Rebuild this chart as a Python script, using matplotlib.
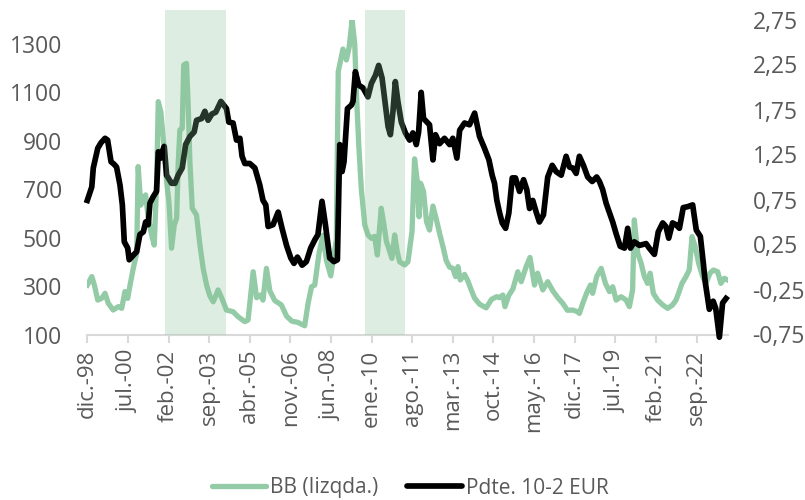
import matplotlib
matplotlib.use("Agg")
import matplotlib.pyplot as plt
from matplotlib.lines import Line2D

# ---- data (months since Dec-1998) ----
bb_months = [0, 2.1, 3.3, 4.9, 6.7, 8.3, 9.8, 12.1, 14.5, 16.1, 17.6, 18.9, 20.0, 21.5, 23.1, 23.8,
             25.0, 26.2, 27.3, 28.5, 30.1, 31.3, 32.4, 33.2, 34.4, 35.5, 37.1, 38.2, 39.4, 40.7, 41.8,
             42.5, 43.3, 44.4, 45.1, 46.4, 47.2, 48.0, 49.1, 51.1, 52.7, 54.2, 55.8, 57.3, 58.9, 61.2,
             63.3, 65.1, 68.2, 70.6, 73.7, 75.2, 77.6, 79.2, 81.0, 82.2, 83.8, 85.4, 87.7, 90.8, 93.2,
             95.7, 98.5, 101.7, 103.3, 104.9, 106.4, 108.4, 110.3, 111.9, 113.9, 115.0, 116.5, 117.4,
             119.6, 121.2, 122.5, 123.9, 125.1, 126.0, 127.0, 128.2, 129.8, 131.3, 132.9, 134.4, 135.7,
             137.5, 138.8, 139.9, 141.0, 142.5, 143.8, 145.0, 146.1, 148.5, 150.0, 151.9, 153.1, 154.4,
             155.2, 155.9, 157.3, 158.7, 160.1, 161.7, 163.3, 164.8, 166.4, 167.9, 169.5, 171.0, 172.3,
             173.4, 174.5, 176.5, 178.0, 179.6, 181.2, 183.5, 186.6, 189.1, 191.5, 192.8, 194.4, 195.4,
             197.1, 199.1, 201.4, 203.0, 205.3, 207.1, 209.2, 210.7, 213.1, 215.4, 217.8, 220.1, 222.4,
             224.6, 227.1, 229.4, 230.2, 231.8, 233.7, 235.4, 236.4, 238.3, 240.4, 242.4, 244.3, 245.8,
             247.4, 249.7, 252.1, 253.6, 255.1, 255.9, 257.5, 259.1, 260.6, 262.1, 263.3, 264.8, 266.8,
             269.2, 271.5, 273.8, 275.4, 276.6, 278.2, 280.1, 281.6, 282.9, 284.4, 286.0, 287.9, 289.4,
             291.3, 292.9, 294.9, 296.4, 298.0, 299.5]
bb_values = [304, 339, 304, 242, 249, 270, 229, 201, 215, 208, 277, 249, 304, 373, 435, 793,
             634, 662, 676, 580, 511, 469, 717, 1061, 1019, 910, 731, 648, 456, 552, 580,
             800, 944, 951, 1212, 1219, 1047, 813, 621, 593, 469, 373, 304, 260, 235, 284,
             242, 201, 194, 173, 153, 160, 359, 252, 263, 242, 373, 280, 240, 222, 176,
             155, 150, 136, 229, 297, 304, 435, 510, 405, 342, 407, 490, 1185,
             1278, 1233, 1285, 1398, 1300, 1075, 882, 700, 552, 511, 497, 505, 428,
             621, 552, 485, 456, 414, 511, 442, 400, 387, 400, 524, 825, 731,
             586, 724, 690, 565, 531, 630, 575, 518, 462, 405, 378, 373, 339,
             380, 325, 348, 322, 284, 250, 225, 210, 245, 256, 252, 263, 215,
             260, 288, 359, 318, 380, 418, 304, 353, 284, 318, 280, 252, 229,
             200, 201, 194, 187, 229, 273, 304, 270, 339, 373, 311, 277, 297,
             242, 256, 242, 215, 284, 573, 435, 394, 339, 311, 353, 270, 242,
             222, 208, 222, 242, 270, 311, 339, 366, 504, 462, 394, 339, 311,
             353, 366, 359, 311, 332, 325]

slope_months = [0, 2.1, 2.8, 4.9, 6.4, 8.3, 9.5, 11.1, 12.6, 13.7, 15.3, 16.4, 17.3, 18.9, 19.6, 21.5,
                23.1, 24.6, 26.2, 27.3, 28.5, 29.3, 30.8, 32.4, 33.2, 34.4, 35.0, 36.0, 37.1, 39.4, 41.0,
                42.5, 44.4, 46.0, 48.0, 50.0, 51.1, 53.5, 55.0, 56.5, 58.3, 60.1, 62.5, 65.1, 66.2, 68.2,
                69.8, 71.4, 72.4, 73.7, 76.0, 78.4, 80.7, 82.2, 83.5, 84.6, 86.9, 89.3, 91.1, 93.2, 95.2,
                96.7, 98.3, 100.5, 102.5, 104.5, 106.4, 107.9, 109.8, 111.4, 113.4, 115.4, 117.0, 118.1,
                119.2, 120.1, 121.7, 123.6, 124.3, 125.4, 127.0, 129.0, 131.3, 132.9, 134.8, 136.3, 137.9,
                139.1, 140.7, 141.8, 143.0, 144.1, 145.3, 146.9, 148.8, 150.8, 152.3, 153.9, 155.0, 156.2,
                157.3, 160.1, 161.7, 162.9, 164.8, 167.1, 169.5, 171.0, 172.9, 174.2, 176.5, 178.8, 181.2,
                183.5, 185.8, 187.9, 189.4, 190.5, 191.6, 192.9, 194.1, 195.7, 197.2, 198.8, 200.3, 202.2,
                204.1, 205.6, 206.9, 208.4, 210.0, 211.5, 213.4, 215.4, 217.5, 219.3, 221.7, 224.0, 225.6,
                227.1, 228.7, 230.2, 232.1, 234.1, 236.2, 238.3, 239.6, 241.1, 242.7, 244.3, 245.8, 247.4,
                249.3, 251.3, 252.8, 254.1, 255.9, 258.3, 261.4, 262.9, 265.3, 267.1, 269.2, 270.7, 272.0,
                273.8, 275.4, 277.0, 278.8, 280.8, 283.2, 284.9, 286.8, 288.2, 289.1, 291.0, 292.8, 294.0,
                295.7, 297.2, 298.8]
slope_values = [0.74, 0.89, 1.10, 1.32, 1.38, 1.43, 1.41, 1.17, 1.14, 1.11, 0.91, 0.69, 0.28, 0.21, 0.08, 0.13,
                0.17, 0.36, 0.39, 0.50, 0.47, 0.71, 0.78, 0.84, 1.28, 1.21, 1.28, 1.34, 1.02, 0.93, 0.93,
                1.02, 1.10, 1.36, 1.45, 1.50, 1.63, 1.65, 1.73, 1.63, 1.70, 1.72, 1.84, 1.76, 1.61, 1.60,
                1.41, 1.43, 1.23, 1.15, 1.15, 1.10, 0.91, 0.74, 0.69, 0.45, 0.47, 0.61, 0.43, 0.24, 0.10,
                0.04, 0.11, 0.02, 0.06, 0.21, 0.30, 0.36, 0.73, 0.47, 0.10, 0.06, 0.08, 1.36,
                1.06, 1.17, 1.76, 1.80, 1.84, 2.17, 2.02, 1.99, 1.89, 2.04, 2.13, 2.24, 2.10,
                1.87, 1.56, 1.47, 1.73, 2.06, 1.84, 1.61, 1.49, 1.41, 1.49, 1.36, 1.50, 1.94,
                1.65, 1.58, 1.19, 1.47, 1.37, 1.43, 1.36, 1.43, 1.21, 1.52, 1.60, 1.58, 1.71,
                1.45, 1.32, 1.19, 1.02, 0.93, 0.74, 0.60, 0.49, 0.43, 0.60, 0.99, 0.99, 0.84,
                0.97, 0.86, 0.65, 0.74, 0.61, 0.50, 0.58, 1.00, 1.13, 1.06, 1.02, 1.23, 1.11,
                1.10, 1.04, 1.23, 1.13, 1.00, 0.95, 1.00, 0.95, 0.86, 0.71, 0.60, 0.50, 0.37,
                0.23, 0.21, 0.43, 0.21, 0.28, 0.24, 0.26, 0.21, 0.14, 0.39, 0.49, 0.45, 0.32,
                0.49, 0.47, 0.43, 0.66, 0.67, 0.69, 0.41, 0.34, 0.04, -0.17, -0.47, -0.38, -0.46,
                -0.78, -0.40, -0.35]

# recession shading (months since Dec-1998)
shade_start = [36.5, 129.8]
shade_end = [65.1, 148.8]

tick_months = [0, 19, 38, 57, 76, 95, 114, 133, 152, 171, 190, 209, 228, 247, 266, 285]
tick_labels = ["dic.-98", "jul.-00", "feb.-02", "sep.-03", "abr.-05", "nov.-06", "jun.-08",
               "ene.-10", "ago.-11", "mar.-13", "oct.-14", "may.-16", "dic.-17", "jul.-19",
               "feb.-21", "sep.-22"]
left_ticks = [100, 300, 500, 700, 900, 1100, 1300]
right_ticks = [-0.75, -0.25, 0.25, 0.75, 1.25, 1.75, 2.25, 2.75]
right_labels = ["-0,75", "-0,25", "0,25", "0,75", "1,25", "1,75", "2,25", "2,75"]

series_names = ["BB (Iizqda.)", "Pdte. 10-2 EUR"]

# ---- style ----
plt.rcParams['font.family'] = ['Open Sans', 'DejaVu Sans']
GREEN = "#92cba5"
SHADE = "#8ac195"
TXT = "#595959"
AXIS = "#d9d9d9"

fig = plt.figure(figsize=(8.05, 5.0), dpi=100)
ax = fig.add_axes([87.3 / 805, 1 - 334.5 / 500, (727.5 - 87.3) / 805, 315 / 500])
ax2 = ax.twinx()

ax.plot(bb_months, bb_values, color=GREEN, lw=3.8, solid_joinstyle='round', zorder=2)
ax2.plot(slope_months, slope_values, color="black", lw=4.1, solid_joinstyle='round',
         clip_on=False, zorder=3)

for s, e in zip(shade_start, shade_end):
    ax2.axvspan(s, e, ymin=0, ymax=1.03, color=SHADE, alpha=0.28, lw=0, zorder=5, clip_on=False)

ax.set_xlim(0, 299.5)
ax.set_ylim(100, 1400)
ax2.set_ylim(-0.75, 2.75)

ax.set_yticks(left_ticks)
ax.set_yticklabels([str(v) for v in left_ticks])
ax2.set_yticks(right_ticks)
ax2.set_yticklabels(right_labels)
ax.set_xticks(tick_months)
ax.set_xticklabels(tick_labels, rotation=90)

ax.tick_params(axis='y', length=0, pad=18, labelsize=16.5, labelcolor=TXT)
ax2.tick_params(axis='y', length=0, pad=18, labelsize=16.5, labelcolor=TXT)
ax.tick_params(axis='x', length=6, width=1.5, color=AXIS, pad=5, labelsize=16, labelcolor=TXT)

for a in (ax, ax2):
    for sp in a.spines.values():
        sp.set_visible(False)
ax.spines['bottom'].set_visible(True)
ax.spines['bottom'].set_color(AXIS)
ax.spines['bottom'].set_linewidth(1.5)

handles = [Line2D([0], [0], color=GREEN, lw=3.8, solid_capstyle='round'),
           Line2D([0], [0], color="black", lw=4.1, solid_capstyle='round')]
leg = fig.legend(handles, series_names, loc='center', bbox_to_anchor=(410 / 805, 1 - 488 / 500),
                 ncol=2, frameon=False, fontsize=15, handlelength=2.6, handletextpad=0.2,
                 columnspacing=1.4)
for t in leg.get_texts():
    t.set_color(TXT)

fig.savefig("out.png", dpi=100)
